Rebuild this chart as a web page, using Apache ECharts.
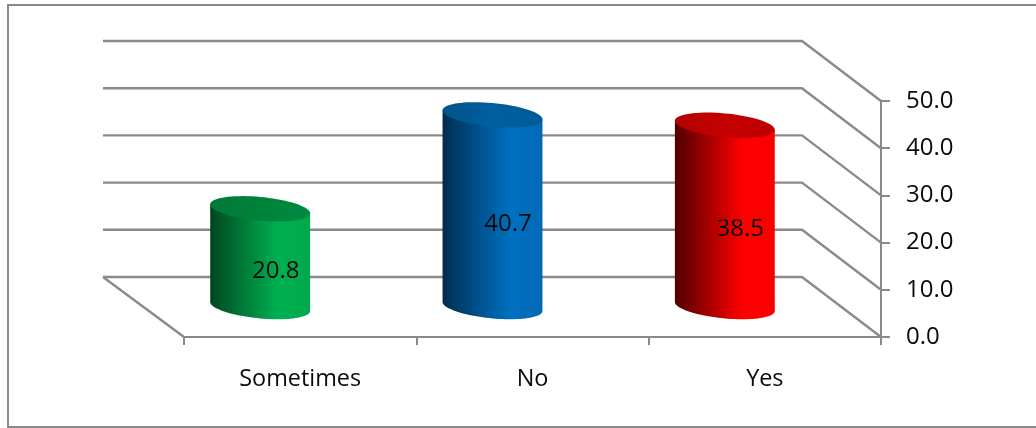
<!DOCTYPE html>
<html><head><meta charset="utf-8">
<style>html,body{margin:0;padding:0;background:#fff}#c{width:1036px;height:428px}</style>
<script src="https://cdn.jsdelivr.net/npm/echarts@6/dist/echarts.min.js"></script>
</head><body><div id="c"></div>
<script>
const categories = ['Sometimes', 'No', 'Yes'];
const values = [20.8, 40.7, 38.5];
const valueTicks = [0, 10, 20, 30, 40, 50];
const sideStops = [
  [[0, '#00431e'], [0.12, '#005a29'], [0.68, '#00b050'], [1, '#00a94c']],
  [[0, '#002a4a'], [0.12, '#003a66'], [0.68, '#0070c0'], [1, '#0069b5']],
  [[0, '#550000'], [0.12, '#6e0000'], [0.68, '#ff0000'], [1, '#fa0000']]
];
const topStops = [
  [[0, '#007a37'], [1, '#008a3f']],
  [[0, '#005288'], [0.5, '#005f9f'], [1, '#005a96']],
  [[0, '#b30000'], [0.5, '#c40000'], [1, '#bd0000']]
];

const DEPTH_X = -79, DEPTH_Y = -60;
const FONT = '"Open Sans"';
const LINE = '#8a8a8a';
const chart = echarts.init(document.getElementById('c'), null, {renderer: 'canvas'});

function renderWall(params, api) {
  const r = params.coordSys;
  const y = api.coord([0, api.value(1)])[1];
  const right = r.x + r.width, left = r.x;
  const lineStyle = {stroke: LINE, lineWidth: 2.4, fill: null};
  const kids = [
    {type: 'polyline', shape: {points: [[left + DEPTH_X - 2, y + DEPTH_Y], [right + DEPTH_X, y + DEPTH_Y], [right, y]]}, style: lineStyle}
  ];
  if (api.value(1) === 0) {
    kids.push({type: 'polyline', shape: {points: [[left + DEPTH_X - 2, y + DEPTH_Y], [left, y]]}, style: lineStyle});
  }
  return {type: 'group', children: kids};
}

function ring(cx, cy, X, Yc, Ys, from, to, n) {
  const out = [];
  for (let i = 0; i <= n; i++) {
    const t = from + (to - from) * i / n;
    out.push([cx + X * Math.cos(t), cy + Yc * Math.cos(t) + Ys * Math.sin(t)]);
  }
  return out;
}

function renderCyl(params, api) {
  const i = params.dataIndex;
  const p = api.coord([api.value(0), api.value(1)]);
  const p0 = api.coord([api.value(0), 0]);
  const X = api.size([1, 0])[0] * 0.215;
  const Yc = 4.5, Ys = 11.9;
  const cx = p[0] + DEPTH_X / 2 - 0.5;
  const top = p[1] + DEPTH_Y / 2, base = p0[1] + DEPTH_Y / 2 - 0.5;
  const side = [[cx - X, top - Yc]]
    .concat(ring(cx, base, X, Yc, Ys, Math.PI, 0, 48))
    .concat([[cx + X, top + Yc]]);
  const grad = s => new echarts.graphic.LinearGradient(0, 0, 1, 0,
    s.map(a => ({offset: a[0], color: a[1]})));
  return {type: 'group', children: [
    {type: 'polygon', shape: {points: side}, style: {fill: grad(sideStops[i])}},
    {type: 'polygon', shape: {points: ring(cx, top, X, Yc, Ys, 0, Math.PI * 2, 72)}, style: {fill: grad(topStops[i])}},
    {type: 'text', x: cx + 15.5, y: (top + base) / 2 + 13.5,
      style: {text: api.value(1).toFixed(1), font: '24px ' + FONT, fill: '#0a0a0a', align: 'center', verticalAlign: 'middle'}}
  ]};
}

chart.setOption({
  animation: false,
  backgroundColor: '#fff',
  grid: {left: 184, top: 101, width: 697, height: 236, containLabel: false},
  xAxis: {
    type: 'category', data: categories, position: 'bottom',
    axisLine: {lineStyle: {color: LINE, width: 2}},
    axisTick: {show: true, alignWithLabel: false, length: 8, lineStyle: {color: LINE, width: 2}},
    axisLabel: {color: '#0a0a0a', fontFamily: FONT, fontSize: 23.4, margin: 31, interval: 0},
    splitLine: {show: false}
  },
  yAxis: {
    type: 'value', position: 'right', min: 0, max: 50, interval: 10,
    axisLine: {show: true, lineStyle: {color: LINE, width: 2}},
    axisTick: {show: true, length: 9, lineStyle: {color: LINE, width: 2}},
    axisLabel: {color: '#0a0a0a', fontFamily: FONT, fontSize: 24, margin: 25, formatter: v => v.toFixed(1)},
    splitLine: {show: false}
  },
  graphic: [{type: 'polyline', silent: true,
    shape: {points: [[1036, 5], [8, 5], [8, 427], [1036, 427]]},
    style: {stroke: LINE, lineWidth: 2, fill: null}}],
  series: [
    {type: 'custom', renderItem: renderWall, clip: false, silent: true, z: 1,
      encode: {x: 0, y: 1}, data: valueTicks.map(v => [0, v])},
    {type: 'custom', renderItem: renderCyl, clip: false, silent: true, z: 5,
      encode: {x: 0, y: 1}, data: values.map((v, i) => [i, v])}
  ]
});
</script></body></html>
